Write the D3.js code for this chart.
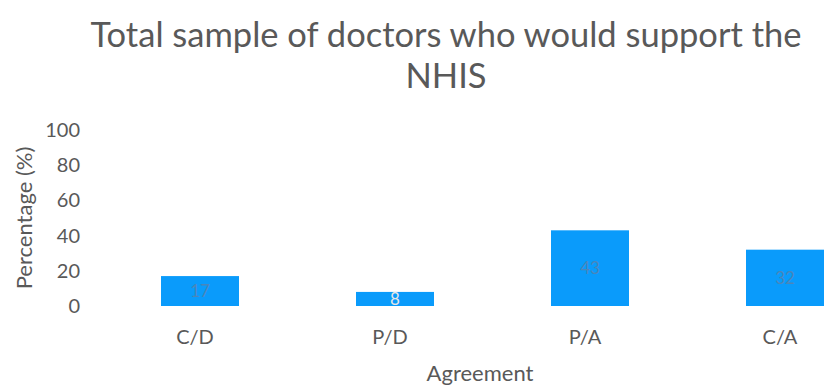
<!DOCTYPE html>
<html><head><meta charset="utf-8">
<script src="https://cdn.jsdelivr.net/npm/d3@7"></script>
<style>body{margin:0;background:#fff}svg{display:block}</style>
</head><body>
<svg id="c" width="829" height="389"></svg>
<script>
const categories = ["C/D", "P/D", "P/A", "C/A"];
const values = [17, 8, 43, 32];
const yTicks = [0, 20, 40, 60, 80, 100];
const titleLines = ["Total sample of doctors who would support the", "NHIS"];
const xTitle = "Agreement";
const yTitle = "Percentage (%)";

const svg = d3.select("#c");
const font = "Lato, 'Open Sans', sans-serif";
const grey = "#595959";

const x = d3.scaleBand().domain(categories).range([102.5, 882.5]).paddingInner(0.6).paddingOuter(0.3);
const y = d3.scaleLinear().domain([0, 100]).range([306, 130]);

svg.append("g").selectAll("text").data(titleLines).join("text")
  .attr("x", 446).attr("y", (d, i) => 47 + i * 41)
  .attr("text-anchor", "middle").attr("font-family", font).attr("font-size", 34.5)
  .attr("fill", grey).text(d => d);

const yAxis = svg.append("g").attr("transform", "translate(80,0)")
  .call(d3.axisLeft(y).tickValues(yTicks).tickSize(0).tickPadding(0));
yAxis.select(".domain").remove();
yAxis.selectAll("text").attr("font-family", font).attr("font-size", 20).attr("fill", grey);

const xAxis = svg.append("g").attr("transform", "translate(0,330)")
  .call(d3.axisBottom(x).tickSize(0).tickPadding(0));
xAxis.select(".domain").remove();
xAxis.selectAll("text").attr("font-family", font).attr("font-size", 20).attr("fill", grey).attr("dx", -5);

svg.selectAll("rect.bar").data(values).join("rect").attr("class", "bar")
  .attr("x", (d, i) => x(categories[i])).attr("width", x.bandwidth())
  .attr("y", d => y(d)).attr("height", d => y(0) - y(d))
  .attr("fill", "#0a9bfb");

svg.selectAll("text.val").data(values).join("text").attr("class", "val")
  .attr("x", (d, i) => x(categories[i]) + x.bandwidth() / 2)
  .attr("y", d => (y(d) + y(0)) / 2 + 6)
  .attr("text-anchor", "middle").attr("font-family", font).attr("font-size", 17)
  .attr("fill", (d, i) => i === 1 ? "#e6e6e6" : "#4a86ba").text(d => d);

svg.append("text").attr("x", 480).attr("y", 381).attr("text-anchor", "middle")
  .attr("font-family", font).attr("font-size", 22).attr("fill", grey).text(xTitle);

svg.append("text").attr("transform", "translate(32,218) rotate(-90)").attr("text-anchor", "middle")
  .attr("font-family", font).attr("font-size", 22).attr("fill", grey).text(yTitle);
</script>
</body></html>
